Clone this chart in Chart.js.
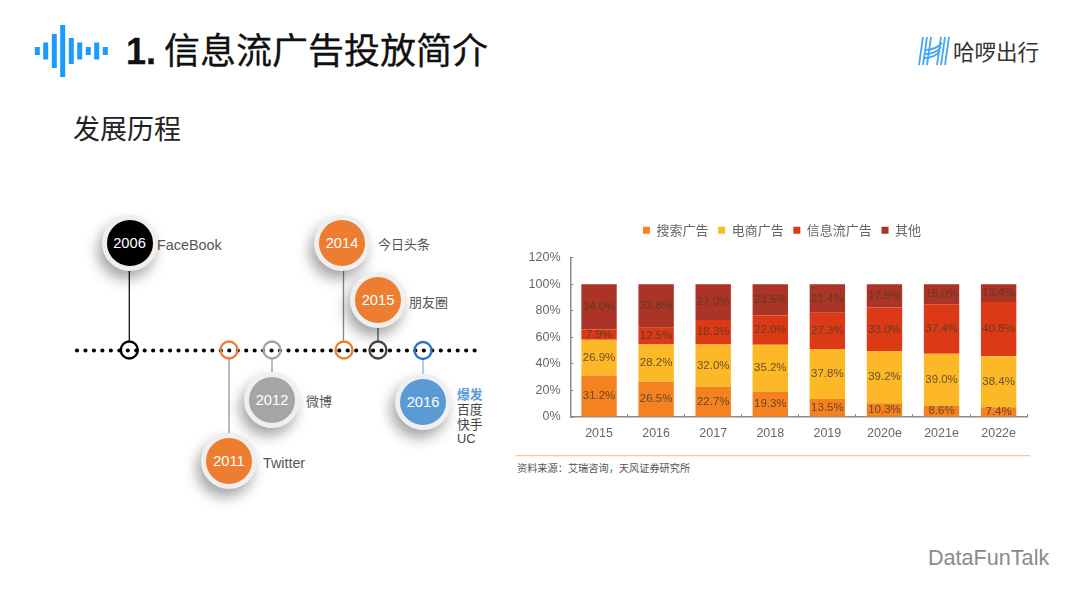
<!DOCTYPE html>
<html>
<head>
<meta charset="utf-8">
<script src="https://cdn.jsdelivr.net/npm/chart.js@4"></script>
<style>
html,body{margin:0;padding:0;background:#fff;}
body{width:1080px;height:608px;position:relative;overflow:hidden;font-family:"Noto Sans CJK SC",sans-serif;}
.t{position:absolute;white-space:nowrap;line-height:1;transform:translateY(-50%);}
.ball{position:absolute;width:46px;height:46px;border:5px solid #efefef;border-radius:50%;box-shadow:-4px 8px 14px rgba(0,0,0,.36);
  color:#fff;font:14.7px "Liberation Sans",sans-serif;text-align:center;line-height:46px;}
#c{position:absolute;left:510px;top:214px;}
svg{position:absolute;left:0;top:0;}
</style>
</head>
<body>
<svg width="1080" height="608">
  <!-- sound wave icon -->
  <g stroke="#1a9cff" stroke-width="5">
    <path d="M37.3 47V55M45.7 42.500V59.500M54.300 34V68M62.700 25V77M71.300 38V64M79.700 42.500V59.500M88.300 47V55M96.700 42.500V59.500M105.300 47V55"/>
  </g>
  <!-- logo -->
  <g fill="none" stroke="#45a9f2" stroke-width="1.800">
    <path d="M923 37L919 65M927 37L923 65M931 37L927 65M941 37L937 65M945 37L941 65M949 37L945 65"/>
    <path d="M926 50C932 50 938 47 942 43M925 54C932 54 938 51 941 47M924 58C932 58 937 55 940 51"/>
  </g>
  <!-- timeline -->
  <line x1="77" y1="350.500" x2="476" y2="350.500" stroke="#000" stroke-width="4.200" stroke-linecap="round" stroke-dasharray="0 8.460"/>
  <g fill="none" stroke-width="1.300">
    <path d="M129.300 268V342" stroke="#111"/>
    <path d="M229 358V436" stroke="#aaa" stroke-width="1.600"/>
    <path d="M272 358V374" stroke="#aaa" stroke-width="1.600"/>
    <path d="M343.500 268V342" stroke="#888"/>
    <path d="M378 328V342" stroke="#555"/>
    <path d="M423 358V375" stroke="#8db6e0"/>
  </g>
  <g fill="none" stroke-width="2.400">
    <circle cx="129.300" cy="350" r="8.500" stroke="#000"/>
    <circle cx="229" cy="350" r="8.500" stroke="#ed7d31"/>
    <circle cx="272" cy="350" r="8.500" stroke="#a5a5a5"/>
    <circle cx="344" cy="350" r="8.500" stroke="#ed7d31"/>
    <circle cx="378" cy="350" r="8.500" stroke="#444"/>
    <circle cx="423" cy="350.500" r="8.500" stroke="#2f6fc0"/>
  </g>
  <line x1="516" y1="455.700" x2="1030" y2="455.700" stroke="#f5c896" stroke-width="1.200"/>
</svg>

<div class="t" style="left:126px;top:51px;font-size:36px;color:#111;-webkit-text-stroke:.3px #111"><span style="font:bold 36px 'Liberation Sans'">1.</span> 信息流广告投放简介</div>
<div class="t" style="left:73px;top:127px;font-size:27px;color:#222">发展历程</div>
<div class="t" style="left:953px;top:51px;font-size:21.500px;color:#333">哈啰出行</div>
<div class="t" style="left:928px;top:558px;font:21.600px 'Liberation Sans';color:#8a8a8a">DataFunTalk</div>

<div class="ball" style="left:101.500px;top:214.500px;background:#000">2006</div>
<div class="ball" style="left:201px;top:432.500px;background:#ed7d31">2011</div>
<div class="ball" style="left:244px;top:372px;background:#a5a5a5">2012</div>
<div class="ball" style="left:314px;top:214.500px;background:#ed7d31">2014</div>
<div class="ball" style="left:350px;top:272px;background:#ed7d31">2015</div>
<div class="ball" style="left:395px;top:373.500px;background:#5b9bd5">2016</div>

<div class="t" style="left:157px;top:245px;font:14.400px 'Liberation Sans';color:#555">FaceBook</div>
<div class="t" style="left:378px;top:243px;font-size:13px;color:#555">今日头条</div>
<div class="t" style="left:409px;top:300.500px;font-size:13px;color:#555">朋友圈</div>
<div class="t" style="left:306px;top:399.500px;font-size:13px;color:#555">微博</div>
<div class="t" style="left:263px;top:463px;font:14.300px 'Liberation Sans';color:#555">Twitter</div>
<div class="t" style="left:457px;top:418px;font-family:'Liberation Sans','Noto Sans CJK SC';font-size:12.800px;line-height:14.800px;color:#444"><b style="color:#5b9bd5">爆发</b><br>百度<br>快手<br>UC</div>
<div class="t" style="left:517px;top:467.500px;font-size:10.200px;color:#555">资料来源&#xFF1A;艾瑞咨询&#xFF0C;天风证券研究所</div>

<canvas id="c" width="518" height="233"></canvas>

<script>
const years = ['2015','2016','2017','2018','2019','2020e','2021e','2022e'];
const seriesNames = ['搜索广告','电商广告','信息流广告','其他'];
const search = [31.2,26.5,22.7,19.3,13.5,10.3,8.6,7.4];
const ecommerce = [26.9,28.2,32.0,35.2,37.8,39.2,39.0,38.4];
const feed = [7.9,12.5,18.3,22.0,27.3,33.0,37.4,40.8];
const other = [34.0,32.8,27.0,23.5,21.4,17.5,15.0,13.4];
const colors = ['#f58220','#fdb827','#dc3a16','#ab3426'];

// value labels in the middle of each segment
const segLabels = {
  id:'segLabels',
  afterDatasetsDraw(chart){
    const ctx = chart.ctx;
    ctx.save();
    ctx.font = '11.5px "Liberation Sans"';
    ctx.textAlign = 'center';
    ctx.textBaseline = 'middle';
    ctx.fillStyle = 'rgba(80,60,40,.85)';
    chart.data.datasets.forEach(function(ds,i){
      chart.getDatasetMeta(i).data.forEach(function(bar,j){
        ctx.fillText(ds.data[j].toFixed(1)+'%', bar.x, (bar.y+bar.base)/2);
      });
    });
    ctx.restore();
  }
};

// legend is not centred over the plot in the original
const moveLegend = {
  id:'moveLegend',
  afterLayout(chart){
    chart.legend.left += 13;
    chart.legend.right += 13;
    chart.legend.top = 0;
  }
};

const chart = new Chart(document.getElementById('c').getContext('2d'),{
  type:'bar',
  data:{
    labels:years,
    datasets:[
      {label:seriesNames[0],data:search,backgroundColor:colors[0]},
      {label:seriesNames[1],data:ecommerce,backgroundColor:colors[1]},
      {label:seriesNames[2],data:feed,backgroundColor:colors[2]},
      {label:seriesNames[3],data:other,backgroundColor:colors[3]}
    ]
  },
  options:{
    responsive:false,
    animation:false,
    devicePixelRatio:1,
    barPercentage:0.62,
    categoryPercentage:1,
    layout:{padding:{top:11}},
    plugins:{
      tooltip:{enabled:false},
      legend:{
        position:'top',
        labels:{
          boxWidth:7,boxHeight:7,padding:9.7,color:'#666',
          font:{family:'"Noto Sans CJK SC"',size:13}
        }
      }
    },
    scales:{
      x:{
        stacked:true,
        afterFit(s){s.height=30;},
        border:{color:'#8c8c8c',width:1.5},
        grid:{drawOnChartArea:false,tickLength:-3,tickColor:'#8c8c8c'},
        ticks:{color:'#666',padding:12,font:{family:'"Liberation Sans"',size:12.5}}
      },
      y:{
        stacked:true,
        min:0,max:120,
        afterFit(s){s.width=60.5;},
        border:{color:'#8c8c8c',width:1.5},
        grid:{drawOnChartArea:false,tickLength:-3,tickColor:'#8c8c8c'},
        ticks:{stepSize:20,color:'#666',padding:13,font:{family:'"Liberation Sans"',size:12.5},callback:v=>v+'%'}
      }
    }
  },
  plugins:[segLabels,moveLegend]
});
</script>
</body>
</html>
